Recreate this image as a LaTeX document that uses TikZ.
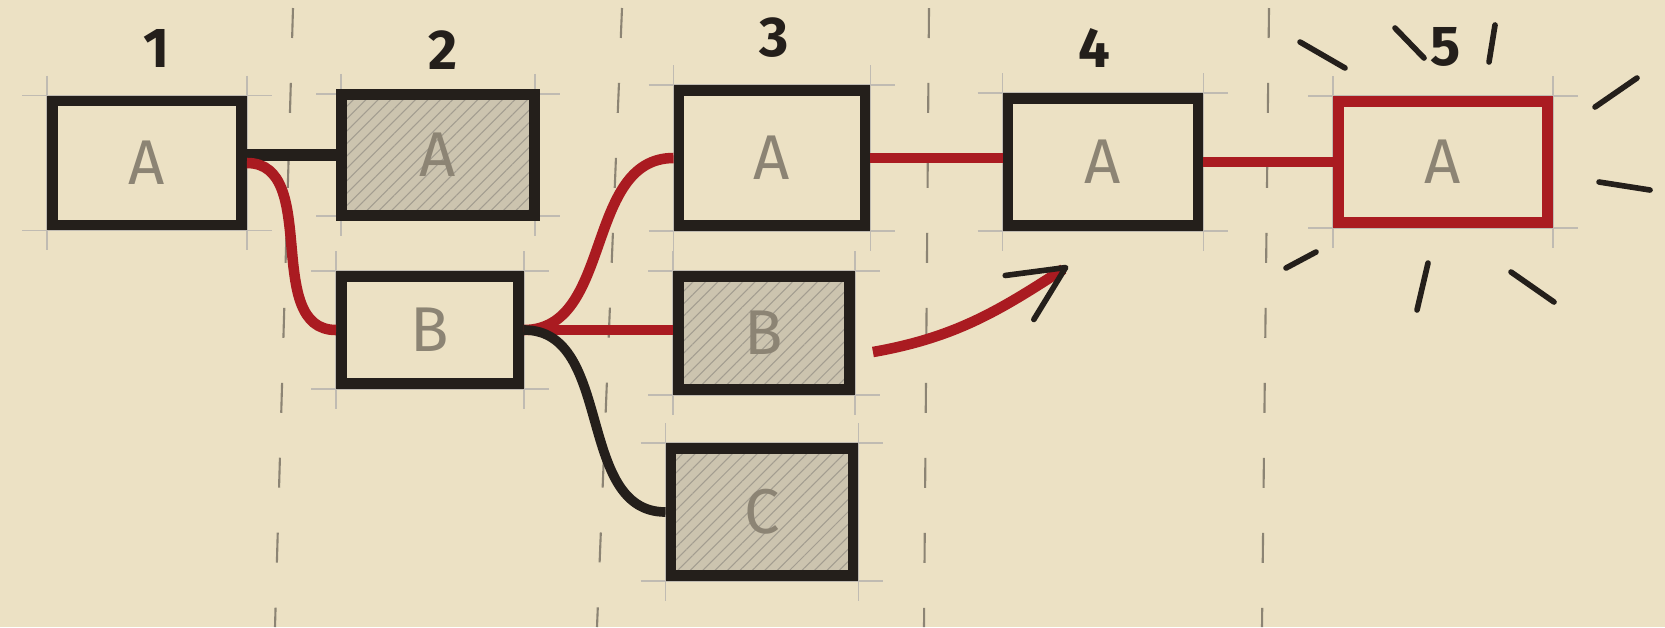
\documentclass[tikz,border=0pt]{standalone}
\usepackage{fontspec}
\setmainfont{Fira Sans}
\usetikzlibrary{arrows.meta, positioning, patterns.meta, backgrounds}

\definecolor{paper}{RGB}{236,225,196}
\definecolor{ink}{RGB}{36,31,27}
\definecolor{marker}{RGB}{170,27,33}
\definecolor{pencil}{RGB}{140,132,116}
\definecolor{shade}{RGB}{204,196,175}

\begin{document}
\begin{tikzpicture}[
        x=0.02cm, y=-0.02cm,
        box/.style={draw=ink, line width=6.2pt, fill=paper, inner sep=0pt,
            minimum width=3.7cm, minimum height=2.45cm, text=pencil,
            font=\fontsize{36}{40}\selectfont},
        done/.style={box, preaction={fill=shade},
            pattern={Lines[angle=45, distance=5pt, line width=0.6pt]},
            pattern color=pencil!80},
        stage/.style={text=ink, font=\fontsize{32}{36}\selectfont\bfseries},
        link/.style={ink, line width=5.5pt},
        hot/.style={marker, line width=6pt},
        sep/.style={pencil, line width=1.2pt, dash pattern=on 0.6cm off 0.9cm},
        guide/.style={pencil!55, line width=0.7pt},
        ray/.style={ink, line width=3.2pt, line cap=round},
    ]
        \useasboundingbox (0,0) rectangle (1665,627);
        \begin{scope}[on background layer]
            \fill[paper] (0,0) rectangle (1665,627);
        \end{scope}

        % Stage separators
        \foreach \xa/\xb in {293/275, 622/597, 929/924, 1269/1262}
            \draw[sep] (\xa,8) -- (\xb,627);

        % Stage numbers
        \node[stage] (s1) at (157,48) {1};
        \node[stage] (s2) at (443,50) {2};
        \node[stage] (s3) at (774,38) {3};
        \node[stage] (s4) at (1094,48) {4};
        \node[stage] (s5) at (1446,47) {5};

        % Boxes per stage
        \node[box, minimum width=3.78cm, minimum height=2.48cm] (a1) at (147,163) {A};
        \node[done, minimum width=3.86cm, minimum height=2.42cm] (a2) at (438,155) {A};
        \node[box, minimum width=3.54cm, minimum height=2.14cm] (b2) at (430,330) {B};
        \node[box, minimum width=3.72cm, minimum height=2.7cm] (a3) at (772,158) {A};
        \node[done, minimum width=3.42cm, minimum height=2.26cm] (b3) at (764,333) {B};
        \node[done, minimum width=3.64cm, minimum height=2.54cm] (c3) at (762,512) {C};
        \node[box, minimum width=3.8cm, minimum height=2.54cm] (a4) at (1103,162) {A};
        \node[box, draw=marker, minimum width=4.18cm, minimum height=2.42cm] (a5) at (1443,162) {A};

        % Pencil guides
        \begin{scope}[on background layer]
            \foreach \n in {a1,a2,b2,a3,b3,c3,a4,a5} {
                \draw[guide] ([xshift=-0.5cm]\n.north west) -- ([xshift=0.5cm]\n.north east);
                \draw[guide] ([xshift=-0.5cm]\n.south west) -- ([xshift=0.5cm]\n.south east);
                \draw[guide] ([yshift=0.4cm]\n.north west) -- ([yshift=-0.4cm]\n.south west);
                \draw[guide] ([yshift=0.4cm]\n.north east) -- ([yshift=-0.4cm]\n.south east);
            }
        \end{scope}

        % Links
        \draw[link, line width=7pt] (a2.west -| a1.east) -- (a2.west);
        \draw[hot] (a1.east) to[out=0, in=180] (b2.west);
        \draw[hot] (b2.east) to[out=0, in=180] (a3.west);
        \draw[hot] (b2.east) -- (b2.east -| b3.west);
        \draw[link] (b2.east) to[out=0, in=180] (c3.west);
        \draw[hot] (a3.east) -- (a3.east -| a4.west);
        \draw[hot] (a4.east) -- (a5.west);

        % Hint arrow
        \coordinate (cue) at (1068,266);
        \draw[hot, line width=6pt,
            -{Straight Barb[color=ink, length=1.1cm, width=1.05cm, line width=3.2pt, round]}]
            ([shift={(0.36cm,-0.38cm)}]b3.east) to[out=10, in=213] (cue);

        % Glow around the last box
        \foreach \xa/\ya/\xb/\yb in {1300/42/1345/68, 1395/28/1424/58, 1495/25/1489/62,
                           1637/78/1595/107, 1599/182/1650/190, 1511/272/1554/302,
                           1428/263/1417/310, 1316/252/1286/268}
            \draw[ray] (\xa,\ya) -- (\xb,\yb);
\end{tikzpicture}
\end{document}
